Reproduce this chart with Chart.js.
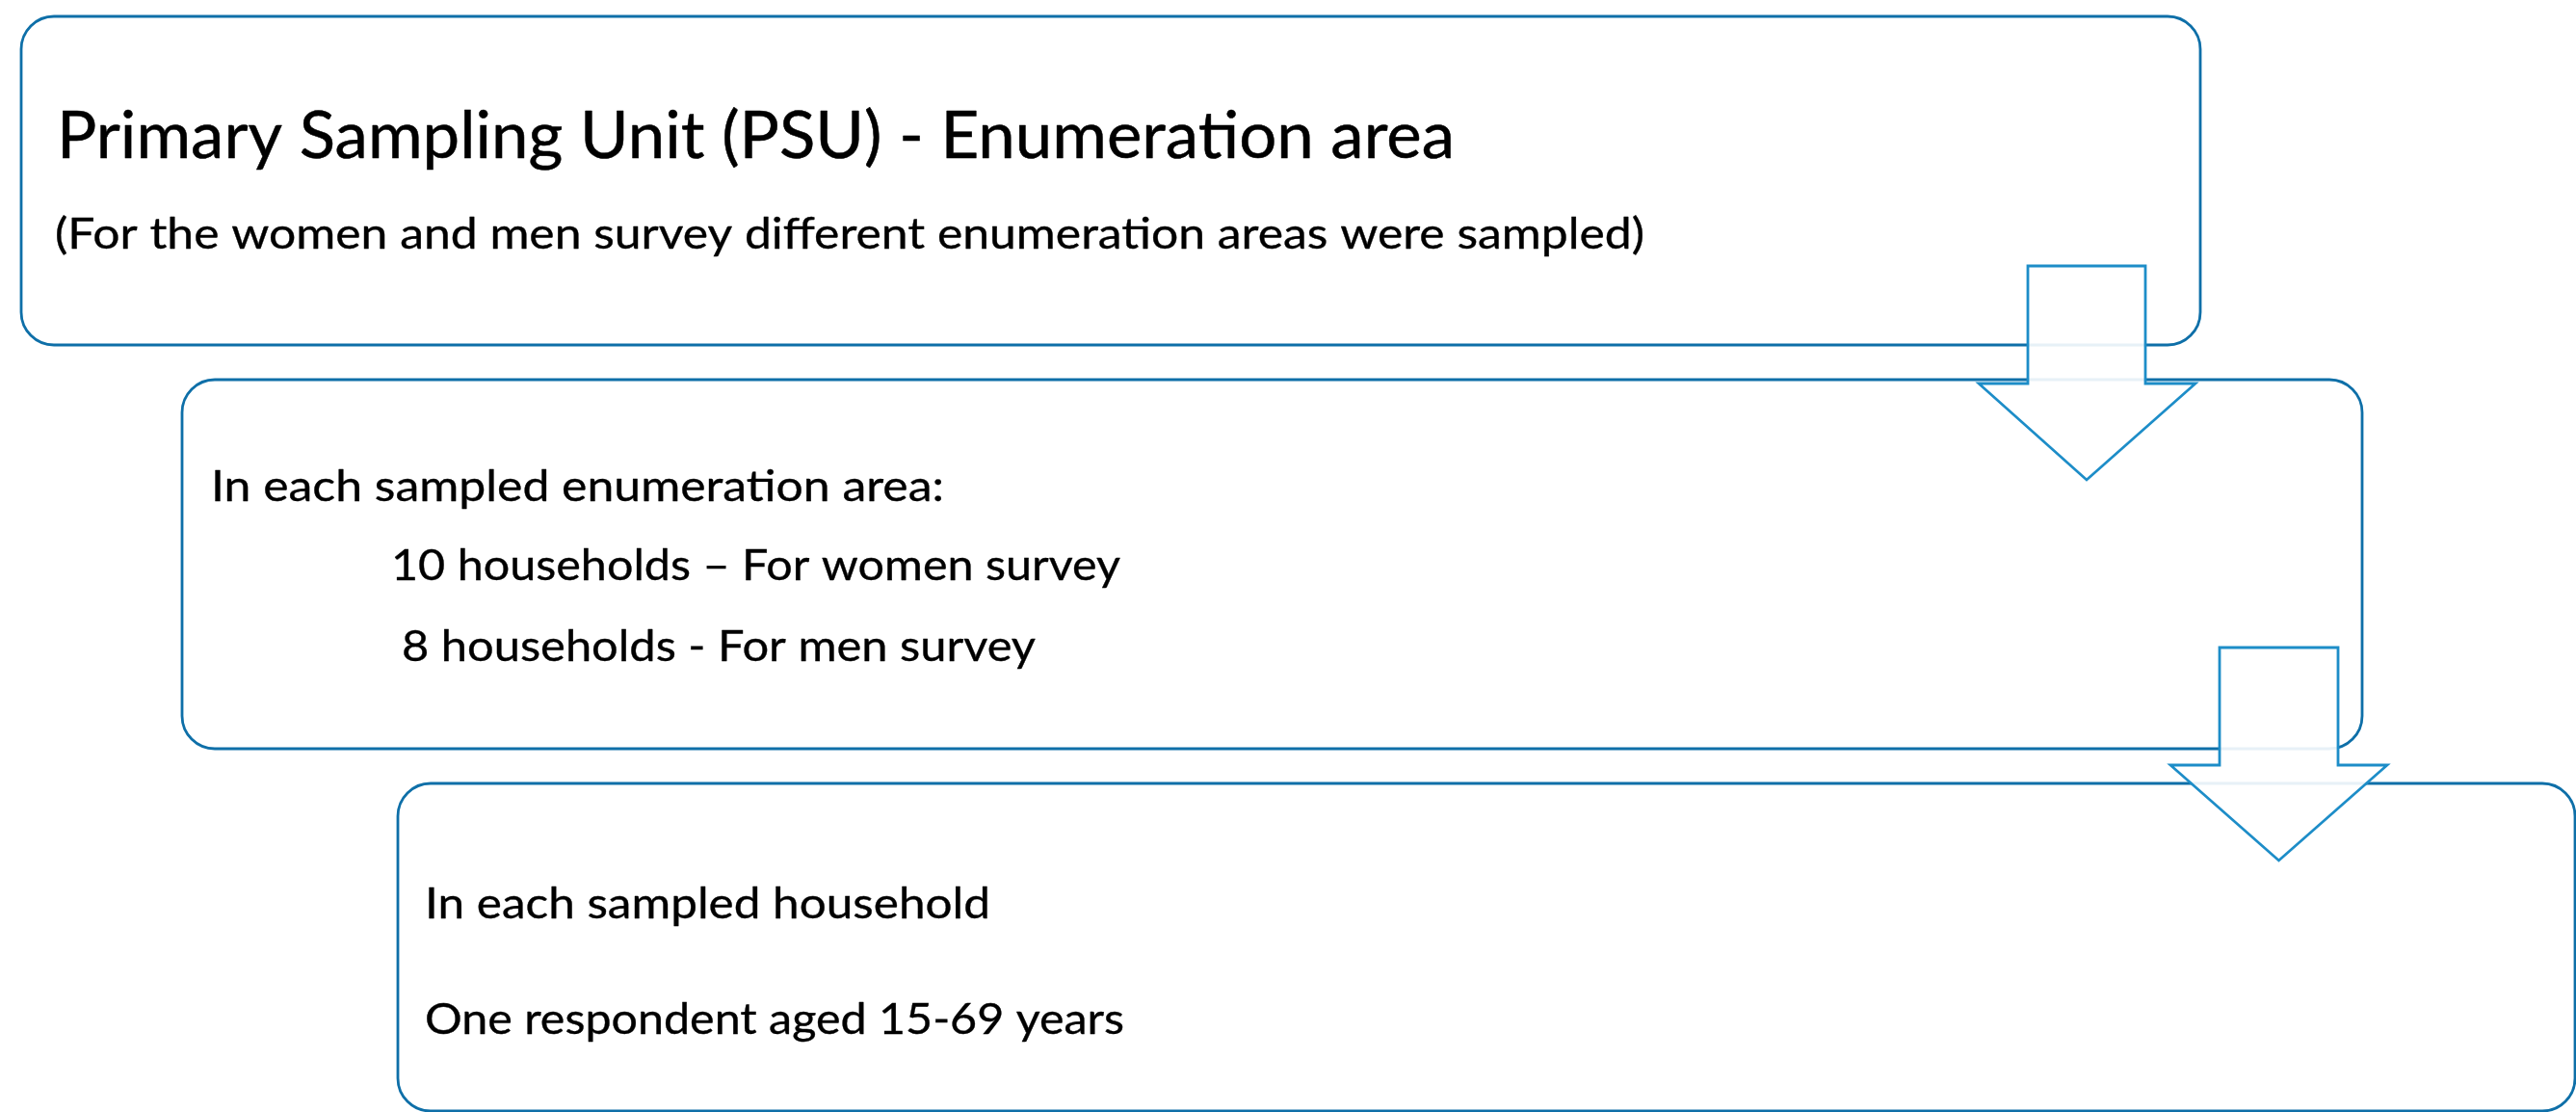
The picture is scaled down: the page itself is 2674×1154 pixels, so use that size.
<!DOCTYPE html>
<html>
<head>
<meta charset="utf-8">
<script src="https://cdn.jsdelivr.net/npm/chart.js@4"></script>
<style>
  html, body { margin: 0; padding: 0; background: #ffffff; }
  #wrap { width: 2674px; height: 1154px; }
</style>
</head>
<body>
<div id="wrap"><canvas id="c" width="2674" height="1154"></canvas></div>
<script>
// ---- Diagram data (in diagram units; drawn through the chart's x / y scales) ----
const stepNames   = ["PSU", "Households", "Respondent"];
const boxLeft     = [22, 189, 413];
const boxRight    = [2284, 2452, 2673];
const boxTop      = [17, 394, 813];
const boxBottom   = [358, 777, 1153];

const arrowShaftLeft  = [2105, 2304];
const arrowShaftRight = [2227, 2427];
const arrowShaftTop   = [276, 672];
const arrowHeadBase   = [398, 794];
const arrowHeadLeft   = [2054, 2253];
const arrowHeadRight  = [2279, 2478];
const arrowTip        = [498, 893];

const box1Text = ["Primary Sampling Unit (PSU) - Enumeration area",
                  "(For the women and men survey different enumeration areas were sampled)"];
const box2Text = ["In each sampled enumeration area:",
                  "10 households \u2013 For women survey",
                  "8 households - For men survey"];
const box3Text = ["In each sampled household",
                  "One respondent aged 15-69 years"];

// text anchors: left x, right x, baseline y (diagram units)
const textLeft  = [[59, 57], [219, 406, 417], [441, 441]];
const textRight = [[1510, 1707], [980, 1163, 1075], [1028, 1167]];
const textBase  = [[164, 258], [520, 602, 686], [953, 1073]];

// ---- styles ----
const BOX_STROKE = "#0E6FA8";
const ARROW_STROKE = "#1D8DC8";
const FONT = "Lato, 'Open Sans', sans-serif";

function roundRect(ctx, x0, y0, x1, y1, r) {
  ctx.beginPath();
  ctx.moveTo(x0 + r, y0);
  ctx.lineTo(x1 - r, y0);
  ctx.arcTo(x1, y0, x1, y0 + r, r);
  ctx.lineTo(x1, y1 - r);
  ctx.arcTo(x1, y1, x1 - r, y1, r);
  ctx.lineTo(x0 + r, y1);
  ctx.arcTo(x0, y1, x0, y1 - r, r);
  ctx.lineTo(x0, y0 + r);
  ctx.arcTo(x0, y0, x0 + r, y0, r);
  ctx.closePath();
}

const diagramPlugin = {
  id: 'diagram',
  afterDraw(chart) {
    const ctx = chart.ctx;
    const xs = chart.scales.x, ys = chart.scales.y;
    const X = v => xs.getPixelForValue(v);
    const Y = v => ys.getPixelForValue(v);
    ctx.save();
    // boxes
    for (let i = 0; i < boxLeft.length; i++) {
      const x0 = X(boxLeft[i]), x1 = X(boxRight[i]);
      const y0 = Y(boxTop[i]), y1 = Y(boxBottom[i]);
      roundRect(ctx, x0, y0, x1, y1, 34);
      ctx.fillStyle = "#ffffff";
      ctx.fill();
      ctx.lineWidth = 2.8;
      ctx.strokeStyle = BOX_STROKE;
      ctx.stroke();
    }
    // arrows
    for (let i = 0; i < arrowShaftLeft.length; i++) {
      const sl = X(arrowShaftLeft[i]), sr = X(arrowShaftRight[i]);
      const st = Y(arrowShaftTop[i]), hb = Y(arrowHeadBase[i]);
      const hl = X(arrowHeadLeft[i]), hr = X(arrowHeadRight[i]);
      const tx = X((arrowShaftLeft[i] + arrowShaftRight[i]) / 2), ty = Y(arrowTip[i]);
      ctx.beginPath();
      ctx.moveTo(sl, st);
      ctx.lineTo(sr, st);
      ctx.lineTo(sr, hb);
      ctx.lineTo(hr, hb);
      ctx.lineTo(tx, ty);
      ctx.lineTo(hl, hb);
      ctx.lineTo(sl, hb);
      ctx.closePath();
      ctx.fillStyle = "rgba(255,255,255,0.9)";
      ctx.fill();
      ctx.lineWidth = 2.8;
      ctx.lineJoin = "miter";
      ctx.strokeStyle = ARROW_STROKE;
      ctx.stroke();
    }
    // texts
    const groups = [box1Text, box2Text, box3Text];
    ctx.fillStyle = "#000000";
    ctx.strokeStyle = "#000000";
    ctx.lineJoin = "round";
    ctx.textBaseline = "alphabetic";
    ctx.textAlign = "left";
    groups.forEach((lines, g) => {
      lines.forEach((txt, k) => {
        const isTitle = (g === 0 && k === 0);
        const size = isTitle ? 68 : 45;
        ctx.font = size + "px " + FONT;
        const left = X(textLeft[g][k]), right = X(textRight[g][k]);
        const base = Y(textBase[g][k]);
        const w = ctx.measureText(txt).width;
        const sx = (right - left) / w;
        ctx.save();
        ctx.translate(left, base);
        ctx.scale(sx, 1);
        ctx.fillText(txt, 0, 0);
        ctx.lineWidth = isTitle ? 0.5 : 0.35;
        ctx.strokeText(txt, 0, 0);
        ctx.restore();
      });
    });
    ctx.restore();
  }
};

new Chart(document.getElementById('c'), {
  type: 'scatter',
  data: {
    labels: stepNames,
    datasets: [{ label: 'steps', data: [], pointRadius: 0 }]
  },
  options: {
    responsive: false,
    animation: false,
    devicePixelRatio: 1,
    layout: { padding: 0 },
    plugins: { legend: { display: false }, tooltip: { enabled: false }, title: { display: false } },
    scales: {
      x: { type: 'linear', min: 0, max: 2674, display: false },
      y: { type: 'linear', min: 0, max: 1154, reverse: true, display: false }
    }
  },
  plugins: [diagramPlugin]
});
</script>
</body>
</html>
